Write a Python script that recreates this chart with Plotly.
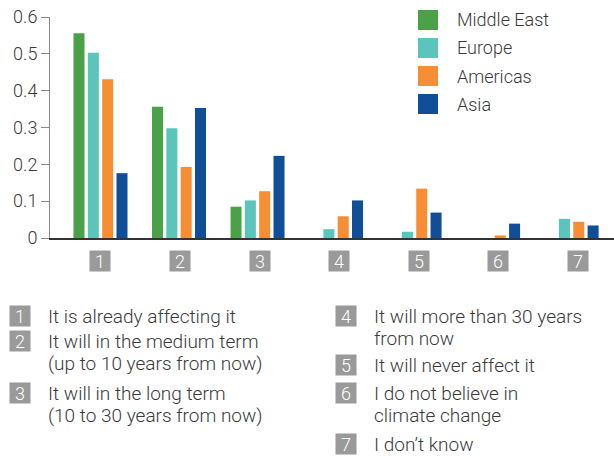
import plotly.graph_objects as go

# Survey answers (share of respondents) by region
answer_ids = ["1", "2", "3", "4", "5", "6", "7"]
answer_texts = [
    ["It is already affecting it"],
    ["It will in the medium term", "(up to 10 years from now)"],
    ["It will in the long term", "(10 to 30 years from now)"],
    ["It will more than 30 years", "from now"],
    ["It will never affect it"],
    ["I do not believe in", "climate change"],
    ["I don\u2019t know"],
]
regions = ["Middle East", "Europe", "Americas", "Asia"]
middle_east = [0.556, 0.356, 0.085, 0.0, 0.0, 0.0, 0.0]
europe = [0.503, 0.298, 0.102, 0.024, 0.017, 0.0, 0.052]
americas = [0.431, 0.193, 0.127, 0.059, 0.134, 0.007, 0.044]
asia = [0.176, 0.353, 0.223, 0.102, 0.069, 0.039, 0.034]
y_ticks = [0, 0.1, 0.2, 0.3, 0.4, 0.5, 0.6]
y_tick_text = ["0", "0.1", "0.2", "0.3", "0.4", "0.5", "0.6"]

series = [middle_east, europe, americas, asia]
colors = ["#4aa148", "#5bc4bb", "#f68e36", "#104e98"]

FONT = "Roboto"
WEIGHT = 300
TEXT = "#3a3a3a"
BOX = "#9a9a9a"

# page geometry (pixels)
W_PAGE, H_PAGE = 614, 456
L, T, B_PX = 50, 17, 238
PLOT_W = W_PAGE - L
PLOT_H = B_PX - T
LINE_STEP = 22


def px_x(px):
    return (px - L) / PLOT_W


def px_y(py):
    return (B_PX - py) / PLOT_H


def font(size, color=TEXT):
    return dict(family=FONT, size=size, color=color, weight=WEIGHT)


x_pos = list(range(len(answer_ids)))

fig = go.Figure()
for name, vals, col in zip(regions, series, colors):
    fig.add_trace(go.Bar(
        x=x_pos, y=vals, name=name, marker=dict(color=col, line=dict(width=0)),
        showlegend=False,
    ))

annotations = []
shapes = []

# region key, top right
for i, (name, col) in enumerate(zip(regions, colors)):
    top = 10 + 28 * i
    shapes.append(dict(type="rect", xref="paper", yref="paper",
                       x0=px_x(418), x1=px_x(438), y0=px_y(top + 20), y1=px_y(top),
                       fillcolor=col, line=dict(width=0)))
    annotations.append(dict(xref="paper", yref="paper", x=px_x(455), y=px_y(top + 10),
                            xanchor="left", yanchor="middle", text=name, showarrow=False,
                            font=font(18)))

# numbered category labels under the axis
for i, lab in enumerate(answer_ids):
    annotations.append(dict(xref="x", yref="paper", x=x_pos[i], xshift=i, y=px_y(261),
                            xanchor="center", yanchor="middle", text=lab, showarrow=False,
                            width=20, height=20, bgcolor=BOX, borderpad=0,
                            font=font(18, "white")))

# answer key below the chart
key_rows = [316, 341, 393, 316, 365, 393, 444]
key_cols = [0, 0, 0, 1, 1, 1, 1]
box_x = [10, 336]
text_x = [46, 372]
for lab, lines, row, col in zip(answer_ids, answer_texts, key_rows, key_cols):
    annotations.append(dict(xref="paper", yref="paper", x=px_x(box_x[col] + 10), y=px_y(row),
                            xanchor="center", yanchor="middle", text=lab, showarrow=False,
                            width=20, height=20, bgcolor=BOX, borderpad=0,
                            font=font(18, "white")))
    for k, line in enumerate(lines):
        annotations.append(dict(xref="paper", yref="paper", x=px_x(text_x[col]),
                                y=px_y(row + k * LINE_STEP), xanchor="left",
                                yanchor="middle", align="left", text=line,
                                showarrow=False, font=font(19)))

fig.update_layout(
    width=W_PAGE, height=H_PAGE,
    margin=dict(l=L, r=0, t=T, b=H_PAGE - B_PX, pad=0),
    paper_bgcolor="white", plot_bgcolor="white",
    barmode="group", bargap=0.27, bargroupgap=0.23,
    font=dict(family=FONT, color=TEXT),
    xaxis=dict(range=[-0.643, 6.54], showticklabels=False, ticks="", showgrid=False,
               zeroline=False, showline=True, linecolor="#333333", linewidth=1.5,
               fixedrange=True),
    yaxis=dict(range=[0, 0.6], tickvals=y_ticks, ticktext=y_tick_text, ticks="outside",
               ticklen=8, tickcolor="#8a8a8a", tickwidth=1, showgrid=False, zeroline=False,
               showline=True, linecolor="#8a8a8a", linewidth=1,
               tickfont=font(18), fixedrange=True),
    shapes=shapes,
    annotations=annotations,
)

fig.write_html("out.html", config={"displayModeBar": False})
